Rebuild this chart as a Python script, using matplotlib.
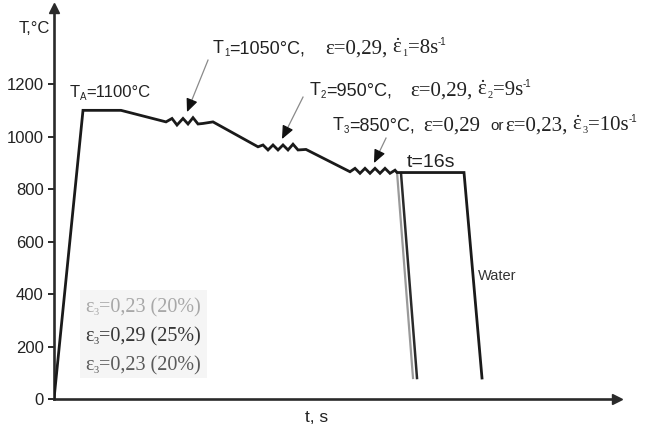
import matplotlib
matplotlib.use('Agg')
import matplotlib.pyplot as plt
from matplotlib.patches import Rectangle

plt.rcParams['font.family'] = ['Liberation Sans', 'DejaVu Sans']
plt.rcParams['mathtext.fontset'] = 'custom'
plt.rcParams['mathtext.rm'] = 'Liberation Serif'
plt.rcParams['mathtext.it'] = 'Liberation Serif:italic'
plt.rcParams['mathtext.sf'] = 'Liberation Sans'

SANS = 'Liberation Sans'
SERIF = 'Liberation Serif'
DOT_EPS = r'$\dot{\mathrm{\varepsilon}}$'

# schedule (time in arbitrary units, temperature in °C)
time = [0, 29, 67, 112, 118, 123, 129, 134, 139, 144, 149, 159,
        204, 209, 214, 219, 224, 229, 234, 239, 244, 252,
        296, 301, 306, 311, 316, 321, 326, 331, 336, 341,
        343, 410, 428]
temp = [0, 1100, 1100, 1056, 1069, 1044, 1069, 1048, 1072, 1048, 1050, 1056,
        961, 968, 949, 968, 949, 968, 949, 971, 949, 951,
        866, 879, 860, 879, 860, 879, 860, 879, 860, 872,
        863, 863, 80]

# direct quench curves after last pass
quench_gray_t = [343, 359]
quench_gray_T = [865, 80]
quench_black_t = [347, 363]
quench_black_T = [861, 80]

yticks = [0, 200, 400, 600, 800, 1000, 1200]

legend_values = ['=0,23 (20%)', '=0,29 (25%)', '=0,23 (20%)']
legend_colors = ['#a8a8a8', '#363636', '#5a5a5a']

# pixel -> data helper for placing labels
X0, Y0, K = 54, 399, 0.2625


def px(x, y):
    return x - X0, (Y0 - y) / K


def rich(ax, renderer, x, y, segments, color='#222222'):
    """Кладёт кусочки текста друг за другом (индексы, разные шрифты)."""
    for seg in segments:
        if not isinstance(seg, tuple):
            x += seg
            continue
        text, size, fam, rise = seg
        t = ax.text(*px(x, y - rise), text, fontsize=size, family=fam,
                    color=color, va='baseline', ha='left')
        x += t.get_window_extent(renderer).width
    return x


def arrow(ax, start, tip):
    s = px(*start)
    t = px(*tip)
    # gray shaft, black head
    fx = t[0] + (s[0] - t[0]) * 0.2
    fy = t[1] + (s[1] - t[1]) * 0.2
    ax.plot([s[0], fx], [s[1], fy], color='#8a8a8a', lw=0.9, zorder=3)
    ax.annotate('', xy=t, xytext=(fx, fy),
                arrowprops=dict(arrowstyle='-|>,head_length=0.8,head_width=0.35',
                                color='#111111', lw=0.9, shrinkA=0, shrinkB=0))


def main():
    fig = plt.figure(figsize=(6.51, 4.25), dpi=100)
    ax = fig.add_axes([X0 / 651, (425 - Y0) / 425, (617 - X0) / 651, (Y0 - 8) / 425])
    ax.set_xlim(0, 563)
    ax.set_ylim(0, 1490)
    renderer = fig.canvas.get_renderer()

    for s in ['top', 'right']:
        ax.spines[s].set_visible(False)
    for s in ['left', 'bottom']:
        ax.spines[s].set_linewidth(1.9)
        ax.spines[s].set_color('#2a2a2a')
    ax.plot(1, 0, '>', color='#2a2a2a', ms=7, transform=ax.transAxes, clip_on=False)
    ax.plot(0, 1, '^', color='#2a2a2a', ms=7, transform=ax.transAxes, clip_on=False)

    ax.set_xticks([])
    ax.set_yticks(yticks)
    ax.tick_params(axis='y', direction='out', length=4.5, width=1.4,
                   color='#2a2a2a', labelsize=12, labelcolor='#222222', pad=3)

    # background of the strain legend
    lx, ly = px(80, 378)
    lx2, ly2 = px(207, 290)
    ax.add_patch(Rectangle((lx, ly), lx2 - lx, ly2 - ly, facecolor='#f5f5f5',
                           edgecolor='none', zorder=0))

    ax.plot(quench_gray_t, quench_gray_T, color='#9a9a9a', lw=1.6, zorder=2)
    ax.plot(quench_black_t, quench_black_T, color='#2a2a2a', lw=1.8, zorder=2)
    ax.plot(time, temp, color='#1a1a1a', lw=2.0, zorder=3, solid_joinstyle='miter')

    ax.text(*px(50, 33), 'T,°C', fontsize=12, color='#222222', va='baseline', ha='right')
    ax.text(*px(305, 422), 't, s', fontsize=12.5, color='#222222', va='baseline', ha='left')
    rich(ax, renderer, 70, 97, [('T', 12, SANS, 0), ('A', 7, SANS, -3), ('=1100°C', 12, SANS, 0)])

    # pass annotations
    rich(ax, renderer, 213, 53, [('T', 13, SANS, 0), ('1', 7, SANS, -3), ('=1050°C,', 13, SANS, 0)])
    rich(ax, renderer, 325, 53, [('ε=0,29,', 15, SERIF, 0), 5, (DOT_EPS, 15, SERIF, 0),
                                 ('1', 7.5, SERIF, -3), ('=8s', 15, SERIF, 0), ('-1', 7, SANS, 8)])
    rich(ax, renderer, 310, 95, [('T', 13, SANS, 0), ('2', 7, SANS, -3), ('=950°C,', 13, SANS, 0)])
    rich(ax, renderer, 410, 95, [('ε=0,29,', 15, SERIF, 0), 5, (DOT_EPS, 15, SERIF, 0),
                                 ('2', 7.5, SERIF, -3), ('=9s', 15, SERIF, 0), ('-1', 7, SANS, 8)])
    rich(ax, renderer, 333, 130, [('T', 13, SANS, 0), ('3', 7, SANS, -3), ('=850°C,', 13, SANS, 0)])
    rich(ax, renderer, 423, 130, [('ε=0,29', 15, SERIF, 0)])
    rich(ax, renderer, 490, 130, [('or', 11, SANS, 0)])
    rich(ax, renderer, 505, 130, [('ε=0,23,', 15, SERIF, 0), 5, (DOT_EPS, 15, SERIF, 0),
                                  ('3', 7.5, SERIF, -3), ('=10s', 15, SERIF, 0), ('-1', 7, SANS, 8)])

    ax.text(*px(407, 167), 't=16s', fontsize=14, color='#222222', va='baseline', ha='left')
    ax.text(*px(478, 280), 'Water', fontsize=10.5, color='#333333', va='baseline', ha='left')

    for i, (val, c) in enumerate(zip(legend_values, legend_colors)):
        rich(ax, renderer, 85, 312 + 29 * i,
             [('ε', 14.5, SERIF, 0), ('3', 7.5, SERIF, -3), (val, 14.5, SERIF, 0)], color=c)

    arrow(ax, (208, 60), (187, 112))
    arrow(ax, (303, 97), (282, 139))
    arrow(ax, (386, 138), (374, 163))

    fig.savefig('out.png', dpi=100)
    plt.close(fig)


if __name__ == '__main__':
    main()
